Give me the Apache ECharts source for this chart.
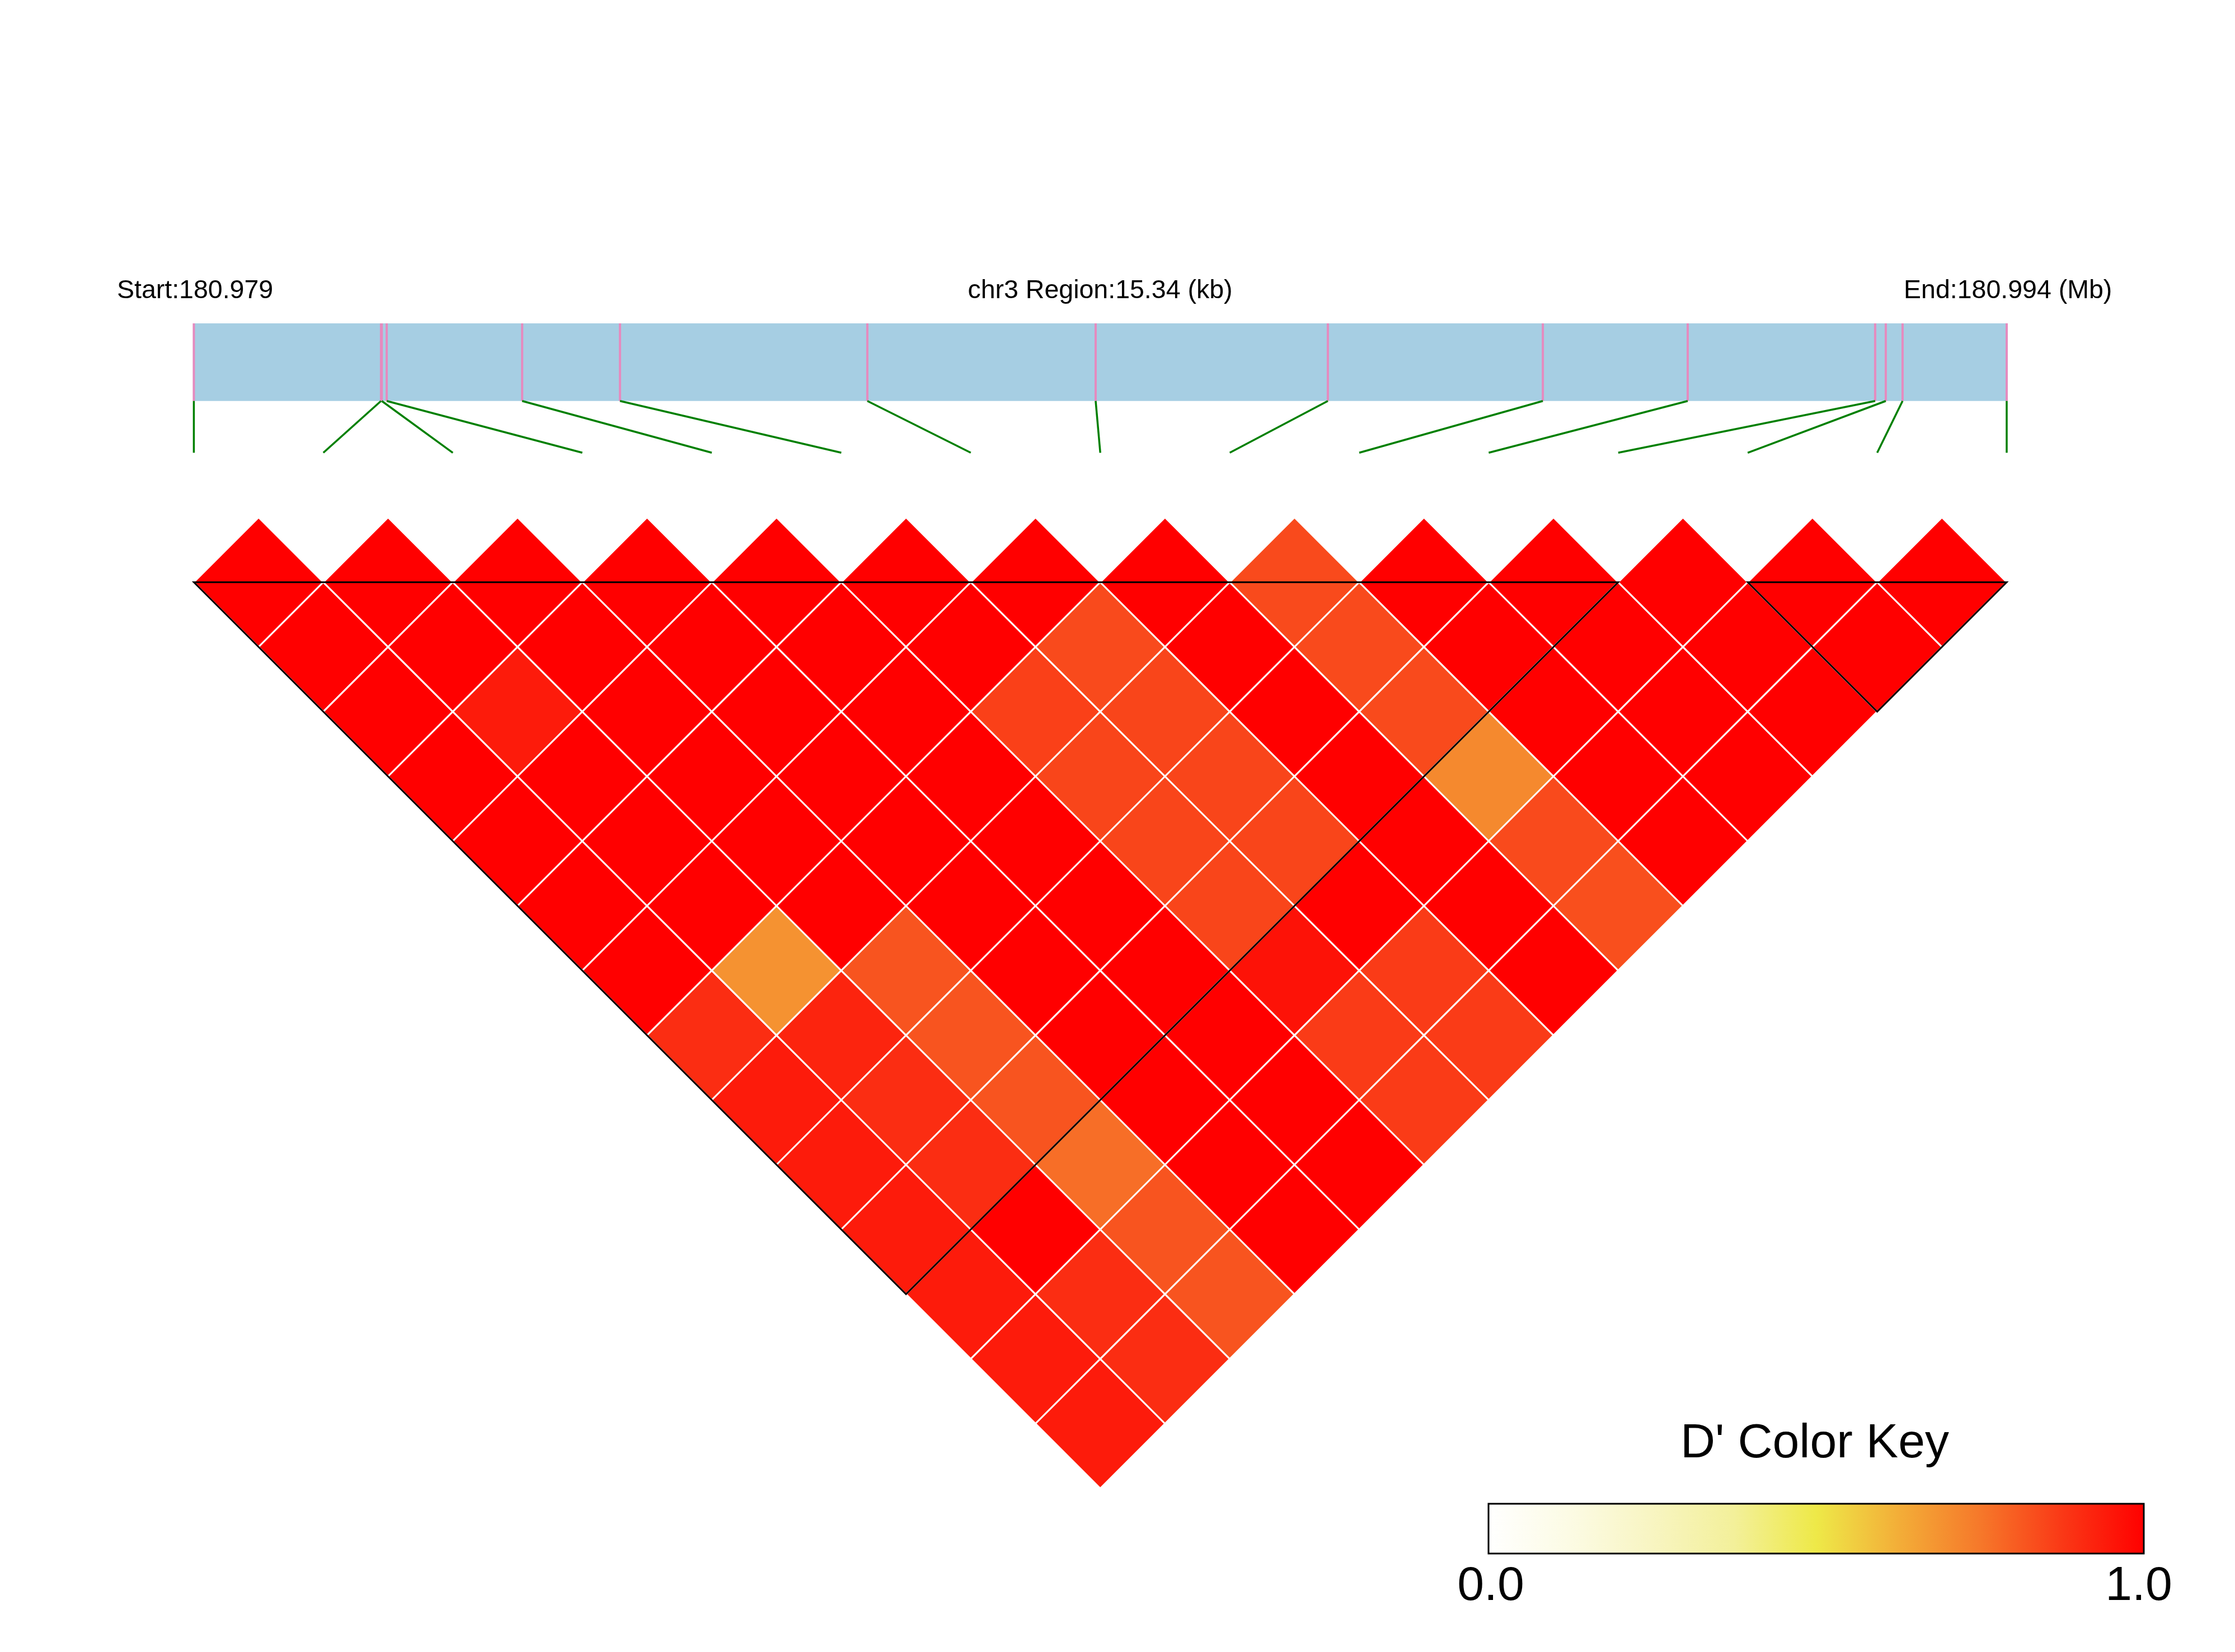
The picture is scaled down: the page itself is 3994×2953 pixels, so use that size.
<!DOCTYPE html>
<html>
<head>
<meta charset="utf-8">
<script src="https://cdn.jsdelivr.net/npm/echarts@6/dist/echarts.min.js"></script>
<style>
html,body{margin:0;padding:0;background:#ffffff;}
#chart{width:3994px;height:2953px;}
</style>
</head>
<body>
<div id="chart"></div>
<script>
// ---------------- data ----------------
const chromosome = 'chr3';
const regionStartMb = 180.979;
const regionEndMb = 180.994;
const regionKb = 15.34;
// SNP positions (kb offset from region start)
const snpPosKb = [0, 1.584, 1.590, 1.632, 2.778, 3.606, 5.699, 7.631, 9.596, 11.415, 12.641, 14.227, 14.317, 14.459, 15.34];
// D' values: row i lists pairs (i, j) for j = i+1 .. 14
const dpRow0  = [1, 1, 1, 1, 1, 1, 1, 0.90, 0.94, 0.94, 0.94, 0.94, 0.94, 0.94];
const dpRow1  = [1, 1, 0.94, 1, 1, 1, 0.69, 0.92, 0.90, 0.90, 1, 0.90, 0.90];
const dpRow2  = [1, 1, 1, 1, 1, 1, 0.82, 0.82, 0.82, 0.77, 0.82, 0.82];
const dpRow3  = [1, 1, 1, 1, 1, 1, 1, 1, 1, 1, 1];
const dpRow4  = [1, 1, 1, 1, 1, 1, 1, 1, 1, 1];
const dpRow5  = [1, 1, 0.86, 0.85, 0.85, 0.85, 0.96, 0.87, 0.87];
const dpRow6  = [1, 0.84, 0.85, 0.85, 0.85, 1, 0.87, 0.87];
const dpRow7  = [1, 1, 1, 1, 1, 1, 1];
const dpRow8  = [0.84, 0.84, 0.84, 0.71, 0.84, 0.83];
const dpRow9  = [1, 1, 1, 1, 1];
const dpRow10 = [1, 1, 1, 1];
const dpRow11 = [1, 1, 1];
const dpRow12 = [1, 1];
const dpRow13 = [1];
const dprimeRows = [dpRow0, dpRow1, dpRow2, dpRow3, dpRow4, dpRow5, dpRow6, dpRow7, dpRow8, dpRow9, dpRow10, dpRow11, dpRow12, dpRow13];
// LD blocks (first SNP index, last SNP index)
const ldBlocks = [[0, 11], [12, 14]];
// colour key
const keyColors = ['#FFFFFF', '#FCFBE4', '#F8F5C2', '#F3F09A', '#EEE948', '#F3AE38', '#F6782A', '#FA3816', '#FF0000'];
const keyTitle = "D' Color Key";
const keyLabels = ['0.0', '1.0'];

// ---------------- build ----------------
const nSnp = snpPosKb.length;
const cellData = [];
dprimeRows.forEach((row, i) => row.forEach((v, k) => cellData.push([i, i + k + 1, v])));
const linkData = snpPosKb.map((kb, idx) => [kb, idx]);
const FONT = "'Liberation Sans', Arial, Helvetica, sans-serif";

function dColor(v) { return echarts.color.lerp(Math.max(0, Math.min(1, v)), keyColors); }

const chart = echarts.init(document.getElementById('chart'), null, { renderer: 'canvas' });

const option = {
  backgroundColor: '#ffffff',
  animation: false,
  grid: { left: 346.4, top: 577.9, width: 3239.6, height: 2082.6, containLabel: false },
  xAxis: [
    { type: 'value', min: 0, max: nSnp - 1, show: false },
    { type: 'value', min: 0, max: regionKb, show: false }
  ],
  yAxis: [{ type: 'value', min: -2, max: 7, inverse: true, show: false }],
  series: [
    {
      name: 'region', type: 'custom', xAxisIndex: 1, yAxisIndex: 0,
      data: [[0, regionKb]],
      renderItem: function (params, api) {
        const a = api.coord([api.value(0), -2]);
        const b = api.coord([api.value(1), -1.4]);
        return { type: 'rect', shape: { x: a[0], y: a[1], width: b[0] - a[0], height: b[1] - a[1] },
                 style: { fill: '#A6CEE3' } };
      }
    },
    {
      name: 'snpTicks', type: 'custom', xAxisIndex: 1, yAxisIndex: 0,
      data: snpPosKb.map(v => [v]),
      renderItem: function (params, api) {
        const a = api.coord([api.value(0), -2]);
        const b = api.coord([api.value(0), -1.4]);
        return { type: 'line', shape: { x1: a[0], y1: a[1], x2: b[0], y2: b[1] },
                 style: { stroke: '#E58BBF', lineWidth: 4 } };
      }
    },
    {
      name: 'links', type: 'custom', xAxisIndex: 1, yAxisIndex: 0,
      data: linkData,
      renderItem: function (params, api) {
        const a = api.coord([api.value(0), -1.4]);
        const b = api.coord([api.value(1) * regionKb / (nSnp - 1), -1.0]);
        return { type: 'line', shape: { x1: a[0], y1: a[1], x2: b[0], y2: b[1] },
                 style: { stroke: '#008000', lineWidth: 3.5 } };
      }
    },
    {
      name: 'cells', type: 'custom', xAxisIndex: 0, yAxisIndex: 0,
      data: cellData,
      renderItem: function (params, api) {
        const i = api.value(0), j = api.value(1), v = api.value(2);
        const cx = (i + j) / 2, cy = (j - i - 1) / 2;
        const pts = [api.coord([cx, cy - 0.5]), api.coord([cx + 0.5, cy]), api.coord([cx, cy + 0.5]), api.coord([cx - 0.5, cy])];
        return { type: 'polygon', shape: { points: pts },
                 style: { fill: dColor(v), stroke: '#ffffff', lineWidth: 3 } };
      }
    },
    {
      name: 'blocks', type: 'custom', xAxisIndex: 0, yAxisIndex: 0,
      data: ldBlocks,
      renderItem: function (params, api) {
        const a = api.value(0), b = api.value(1);
        const pts = [api.coord([a, 0]), api.coord([(a + b) / 2, (b - a) / 2]), api.coord([b, 0])];
        return { type: 'polygon', shape: { points: pts },
                 style: { fill: 'none', stroke: '#000000', lineWidth: 3, lineJoin: 'miter' } };
      }
    }
  ],
  graphic: [
    { type: 'text', x: 209, y: 520,
      style: { text: 'Start:' + regionStartMb.toFixed(3), font: '46.5px ' + FONT, fill: '#000', align: 'left', verticalAlign: 'middle' } },
    { type: 'text', x: 1966, y: 520,
      style: { text: chromosome + ' Region:' + regionKb.toFixed(2) + ' (kb)', font: '46.5px ' + FONT, fill: '#000', align: 'center', verticalAlign: 'middle' } },
    { type: 'text', x: 3402, y: 520,
      style: { text: 'End:' + regionEndMb.toFixed(3) + ' (Mb)', font: '46.5px ' + FONT, fill: '#000', align: 'left', verticalAlign: 'middle' } },
    { type: 'text', x: 3243, y: 2581,
      style: { text: keyTitle, font: '86px ' + FONT, fill: '#000', align: 'center', verticalAlign: 'middle' } },
    { type: 'rect', shape: { x: 2660, y: 2688, width: 1171, height: 89 },
      style: { fill: new echarts.graphic.LinearGradient(0, 0, 1, 0,
                 keyColors.map((c, k) => ({ offset: k / (keyColors.length - 1), color: c }))),
               stroke: '#000', lineWidth: 3 } },
    { type: 'text', x: 2664, y: 2836,
      style: { text: keyLabels[0], font: '86px ' + FONT, fill: '#000', align: 'center', verticalAlign: 'middle' } },
    { type: 'text', x: 3822, y: 2836,
      style: { text: keyLabels[1], font: '86px ' + FONT, fill: '#000', align: 'center', verticalAlign: 'middle' } }
  ]
};
chart.setOption(option);
</script>
</body>
</html>
